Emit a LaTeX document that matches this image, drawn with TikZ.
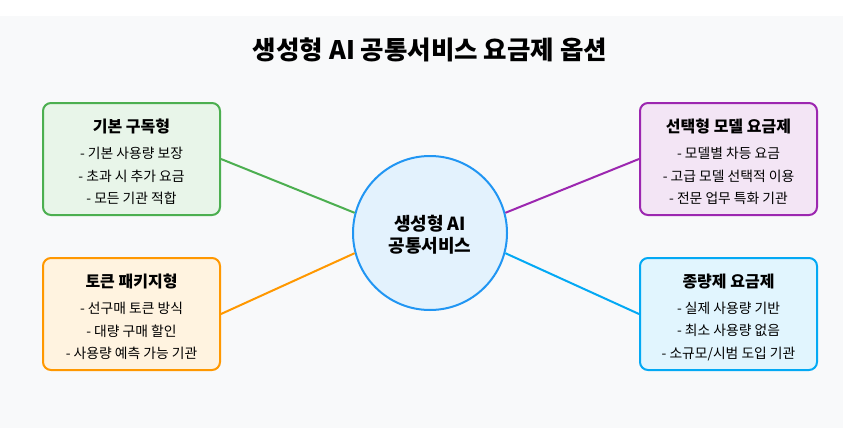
\documentclass[tikz,border=0pt]{standalone}
\usepackage{fontspec}
\setmainfont{Noto Sans CJK KR}
\usepackage{tikz}
\usetikzlibrary{positioning}
\definecolor{pagebg}{HTML}{F8F9FA}
\definecolor{hubline}{HTML}{2196F3}
\definecolor{hubfill}{HTML}{E3F2FD}
\definecolor{subline}{HTML}{4CAF50}
\definecolor{subfill}{HTML}{E8F5E9}
\definecolor{tokline}{HTML}{FF9800}
\definecolor{tokfill}{HTML}{FFF3E0}
\definecolor{selline}{HTML}{9C27B0}
\definecolor{selfill}{HTML}{F3E5F5}
\definecolor{useline}{HTML}{03A9F4}
\definecolor{usefill}{HTML}{E1F5FE}
\tikzset{
  plan/.style={draw, line width=2pt, rounded corners=8pt,
    minimum width=177pt, minimum height=112pt, align=center,
    font=\fontsize{13.8}{22.5}\selectfont, inner sep=0pt},
  hub/.style={draw=hubline, fill=hubfill, circle, line width=2pt,
    minimum size=154pt, align=center,
    font=\fontsize{18}{22}\selectfont\bfseries},
  link/.style={line width=2pt},
}
\newcommand{\plantitle}[1]{{\fontsize{16}{22.5}\selectfont\bfseries\rule{0pt}{20pt}#1}\\[3.5pt]}

\begin{document}
\begin{tikzpicture}[x=1pt, y=-1pt]
    \useasboundingbox (0,0) rectangle (843,428);
    \fill[pagebg] (0,16) rectangle (843,428);
    \node[font=\fontsize{25.5}{28}\selectfont\bfseries] (title) at (430,50) {생성형 AI 공통서비스 요금제 옵션};
    \node[hub] (hub) at (430,233) {\rule{0pt}{18pt}생성형 AI\\공통서비스};
    \node[plan, draw=subline, fill=subfill] (sub) at (131.5,159)
      {\plantitle{기본 구독형}- 기본 사용량 보장\\- 초과 시 추가 요금\\- 모든 기관 적합};
    \node[plan, draw=tokline, fill=tokfill] (tok) at (131.5,314)
      {\plantitle{토큰 패키지형}- 선구매 토큰 방식\\- 대량 구매 할인\\- 사용량 예측 가능 기관};
    \node[plan, draw=selline, fill=selfill] (sel) at (728.5,159)
      {\plantitle{선택형 모델 요금제}- 모델별 차등 요금\\- 고급 모델 선택적 이용\\- 전문 업무 특화 기관};
    \node[plan, draw=useline, fill=usefill] (use) at (728.5,314)
      {\plantitle{종량제 요금제}- 실제 사용량 기반\\- 최소 사용량 없음\\- 소규모/시범 도입 기관};
    \path
      (sub.east) edge [link, subline] (hub.165)
      (tok.east) edge [link, tokline] (hub.195)
      (sel.west) edge [link, selline] (hub.15)
      (use.west) edge [link, useline] (hub.-15);
  \end{tikzpicture}
\end{document}
